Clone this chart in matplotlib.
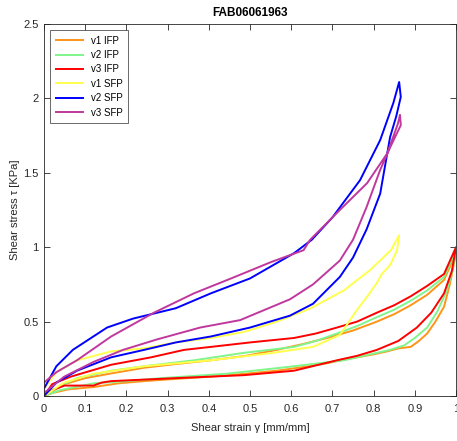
import numpy as np
import matplotlib
matplotlib.use("Agg")
import matplotlib.pyplot as plt

# hysteresis loops: loading branch then unloading branch
v1_ifp_x = [0, 0.05, 0.1, 0.16, 0.243, 0.32, 0.405, 0.49, 0.565, 0.63, 0.687, 0.75, 0.808, 0.85, 0.89, 0.93, 0.971, 1.0,
            0.985, 0.971, 0.95, 0.93, 0.91, 0.89, 0.86, 0.833, 0.8, 0.76, 0.72, 0.687, 0.63, 0.565, 0.49, 0.405, 0.32, 0.243, 0.18, 0.12, 0.06, 0.02, 0]
v1_ifp_y = [0, 0.08, 0.12, 0.15, 0.19, 0.215, 0.24, 0.27, 0.31, 0.35, 0.39, 0.44, 0.50, 0.55, 0.61, 0.68, 0.78, 0.96,
            0.75, 0.60, 0.50, 0.42, 0.37, 0.33, 0.32, 0.30, 0.28, 0.26, 0.24, 0.22, 0.195, 0.17, 0.15, 0.13, 0.115, 0.10, 0.085, 0.06, 0.045, 0.02, 0]

v2_ifp_x = [0, 0.04, 0.08, 0.163, 0.243, 0.364, 0.485, 0.607, 0.66, 0.711, 0.76, 0.808, 0.85, 0.89, 0.93, 0.971, 1.0,
            0.99, 0.978, 0.955, 0.93, 0.9, 0.874, 0.84, 0.808, 0.728, 0.607, 0.444, 0.284, 0.2, 0.12, 0.04, 0]
v2_ifp_y = [0, 0.07, 0.12, 0.17, 0.20, 0.24, 0.29, 0.33, 0.37, 0.42, 0.47, 0.53, 0.58, 0.64, 0.71, 0.80, 0.98,
            0.83, 0.71, 0.57, 0.46, 0.39, 0.34, 0.31, 0.29, 0.24, 0.20, 0.15, 0.12, 0.10, 0.085, 0.04, 0]

v3_ifp_x = [0, 0.02, 0.065, 0.163, 0.26, 0.34, 0.405, 0.5, 0.607, 0.66, 0.711, 0.76, 0.808, 0.85, 0.89, 0.93, 0.971, 1.0,
            0.99, 0.971, 0.94, 0.905, 0.86, 0.808, 0.76, 0.711, 0.607, 0.485, 0.32, 0.163, 0.14, 0.12, 0.05, 0.02, 0]
v3_ifp_y = [0, 0.08, 0.13, 0.21, 0.26, 0.31, 0.33, 0.36, 0.39, 0.42, 0.46, 0.50, 0.56, 0.61, 0.67, 0.74, 0.82, 1.0,
            0.84, 0.69, 0.56, 0.46, 0.37, 0.31, 0.27, 0.24, 0.17, 0.14, 0.12, 0.10, 0.09, 0.07, 0.07, 0.04, 0]

v1_sfp_x = [0, 0.03, 0.08, 0.163, 0.243, 0.32, 0.405, 0.485, 0.565, 0.648, 0.728, 0.793, 0.842, 0.862,
            0.857, 0.84, 0.82, 0.808, 0.785, 0.76, 0.718, 0.653, 0.556, 0.405, 0.243, 0.12, 0.049, 0]
v1_sfp_y = [0.05, 0.16, 0.24, 0.30, 0.32, 0.36, 0.39, 0.43, 0.50, 0.59, 0.71, 0.85, 0.98, 1.08,
            0.98, 0.88, 0.82, 0.76, 0.67, 0.58, 0.41, 0.33, 0.29, 0.24, 0.20, 0.15, 0.09, 0]

v2_sfp_x = [0, 0.03, 0.07, 0.153, 0.216, 0.32, 0.405, 0.5, 0.607, 0.65, 0.7, 0.767, 0.816, 0.848, 0.862,
            0.866, 0.855, 0.84, 0.816, 0.783, 0.75, 0.718, 0.653, 0.597, 0.5, 0.405, 0.32, 0.243, 0.163, 0.08, 0.03, 0]
v2_sfp_y = [0.05, 0.20, 0.31, 0.46, 0.52, 0.59, 0.69, 0.79, 0.96, 1.05, 1.20, 1.45, 1.72, 1.97, 2.11,
            2.01, 1.88, 1.74, 1.36, 1.12, 0.93, 0.80, 0.62, 0.54, 0.46, 0.40, 0.36, 0.31, 0.26, 0.17, 0.09, 0]

v3_sfp_x = [0, 0.03, 0.08, 0.163, 0.267, 0.364, 0.454, 0.551, 0.63, 0.646, 0.718, 0.784, 0.833, 0.859, 0.864,
            0.866, 0.84, 0.816, 0.783, 0.75, 0.718, 0.653, 0.597, 0.476, 0.379, 0.274, 0.192, 0.121, 0.049, 0]
v3_sfp_y = [0.09, 0.16, 0.24, 0.40, 0.56, 0.69, 0.79, 0.90, 0.98, 1.05, 1.25, 1.43, 1.63, 1.83, 1.89,
            1.82, 1.67, 1.52, 1.27, 1.05, 0.91, 0.75, 0.65, 0.51, 0.46, 0.38, 0.31, 0.23, 0.13, 0.02]

labels = ["v1 IFP", "v2 IFP", "v3 IFP", "v1 SFP", "v2 SFP", "v3 SFP"]
colors = ["#FF9419", "#80F58C", "#FF0000", "#FFFF4D", "#0000FF", "#C0389E"]
xs = [v1_ifp_x, v2_ifp_x, v3_ifp_x, v1_sfp_x, v2_sfp_x, v3_sfp_x]
ys = [v1_ifp_y, v2_ifp_y, v3_ifp_y, v1_sfp_y, v2_sfp_y, v3_sfp_y]

plt.rcParams['font.family'] = ['Liberation Sans', 'DejaVu Sans']

fig = plt.figure(figsize=(4.57, 4.41), dpi=100)
ax = fig.add_axes([44 / 457, 45 / 441, 412 / 457, 372 / 441])

for x, y, c, lab in zip(xs, ys, colors, labels):
	ax.plot(x, y, color=c, lw=1.4, label=lab)

ax.set_xlim(0, 1)
ax.set_ylim(0, 2.5)
ax.set_xticks(np.arange(0, 1.01, 0.1))
ax.set_xticklabels(["0", "0.1", "0.2", "0.3", "0.4", "0.5", "0.6", "0.7", "0.8", "0.9", "1"])
ax.set_yticks([0, 0.5, 1, 1.5, 2, 2.5])
ax.set_yticklabels(["0", "0.5", "1", "1.5", "2", "2.5"])
ax.tick_params(direction='in', top=True, right=True, labelsize=8, length=4, width=0.6, colors='#262626')
ax.tick_params(axis='x', pad=6)
ax.tick_params(axis='y', pad=4)
for s in ax.spines.values():
	s.set_linewidth(0.6)
	s.set_color('#262626')

ax.set_xlabel("Shear strain γ [mm/mm]", fontsize=8, color='#262626', labelpad=6)
ax.set_ylabel("Shear stress τ [KPa]", fontsize=8, color='#262626', labelpad=2)
ax.set_title("FAB06061963", fontsize=8.5, fontweight='bold', pad=6)

leg = ax.legend(loc='upper left', fontsize=7, frameon=True, fancybox=False,
                edgecolor='#262626', handlelength=2.8, labelspacing=0.45,
                borderaxespad=0.6, borderpad=0.6)
leg.get_frame().set_linewidth(0.6)

fig.savefig("out.png", dpi=100)
